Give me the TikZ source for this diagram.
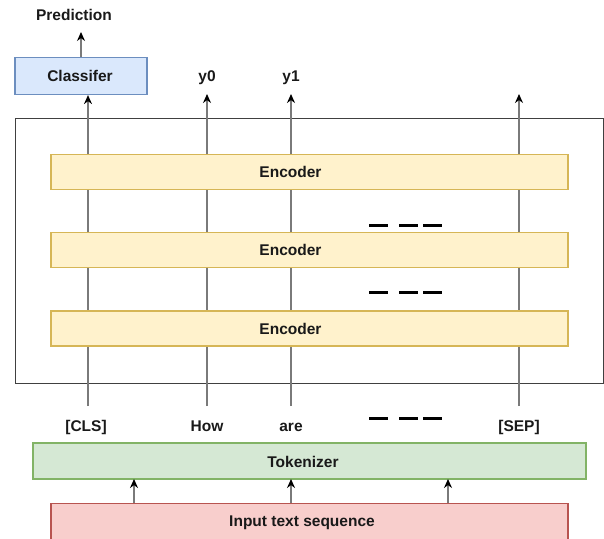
\documentclass[tikz,border=0pt]{standalone}
\usepackage{fontspec}
\setmainfont{Liberation Sans}
\usetikzlibrary{arrows.meta}
\definecolor{blueF}{HTML}{DAE8FC}\definecolor{blueD}{HTML}{6C8EBF}
\definecolor{yelF}{HTML}{FFF2CC}\definecolor{yelD}{HTML}{D6B656}
\definecolor{grnF}{HTML}{D5E8D4}\definecolor{grnD}{HTML}{82B366}
\definecolor{redF}{HTML}{F8CECC}\definecolor{redD}{HTML}{B85450}
\definecolor{wire}{HTML}{7A7A7A}
\begin{document}
\begin{tikzpicture}[x=1pt,y=-1pt,
  txt/.style={font=\bfseries\fontsize{15.5}{18}\selectfont, text=black!90, inner sep=0pt},
  lbl/.style={txt, anchor=base},
  block/.style={draw, line width=1.2pt, inner sep=0pt},
  layer/.style={block, draw=yelD, fill=yelF, minimum width=517pt, minimum height=35pt},
  wireline/.style={draw=wire, line width=1.4pt},
  up/.style={wireline, arrows={-{Stealth[length=9pt,width=8pt,color=black]}}},
  dashpiece/.style={line width=3pt, black},
]
\useasboundingbox (0,0) rectangle (604,538);

% outer frame around the encoder stack
\draw[line width=1pt, black!75] (15,118) rectangle (603,383);

% encoder layers
\node[layer] (enc1) at (309.5,172) {};
\node[layer] (enc2) at (309.5,250) {};
\node[layer] (enc3) at (309.5,328.5) {};

% classifier and prediction
\node[block, draw=blueD, fill=blueF, minimum width=132pt, minimum height=37pt] (cls) at (81,76) {};
\node[lbl] (clstxt) at (80,81) {Classifer};
\node[lbl] (pred) at (74,20) {Prediction};
\coordinate (predtip) at (81,32);

% outputs
\node[lbl] (y0) at (207,81) {y0};
\node[lbl] (y1) at (291,81) {y1};
\coordinate (y0tip) at (207,94);
\coordinate (y1tip) at (291,94);
\coordinate (septip) at (519,94);

% input tokens
\node[lbl] (tcls) at (86,431) {[CLS]};
\node[lbl] (thow) at (207,431) {How};
\node[lbl] (tare) at (291,431) {are};
\node[lbl] (tsep) at (519,431) {[SEP]};
\coordinate (bcls) at (88,406);
\coordinate (bhow) at (207,406);
\coordinate (bare) at (291,406);
\coordinate (bsep) at (519,406);

% tokenizer and raw input
\node[block, draw=grnD, fill=grnF, minimum width=553pt, minimum height=36pt] (tok) at (309.5,461) {};
\node[lbl] (toktxt) at (303,467) {Tokenizer};
\node[block, draw=redD, fill=redF, minimum width=517pt, minimum height=36pt, anchor=north] (inp) at (309.5,503) {};
\node[lbl] (inptxt) at (302,526) {Input text sequence};

% vertical token paths through the stack
\draw[up] (bcls) -- (bcls |- cls.south);
\draw[up] (bhow) -- (y0tip);
\draw[up] (bare) -- (y1tip);
\draw[up] (bsep) -- (septip);
\draw[up] (cls.north -| predtip) -- (predtip);

% layers drawn over the paths, with their labels
\foreach \e in {enc1,enc2,enc3}{
  \node[layer] at (\e) {};
  \node[lbl] at ([xshift=-19pt,yshift=-5.5pt]\e.center) {Encoder};
}

% input to tokenizer
\draw[up] (134,503) -- (134,479);
\draw[up] (291,503) -- (291,479);
\draw[up] (448,503) -- (448,479);

% ellipsis dashes
\foreach \yy in {225,292,418}{
  \draw[dashpiece] (369,\yy) -- (388,\yy);
  \draw[dashpiece] (399,\yy) -- (418,\yy);
  \draw[dashpiece] (423,\yy) -- (442,\yy);
}
\end{tikzpicture}
\end{document}
